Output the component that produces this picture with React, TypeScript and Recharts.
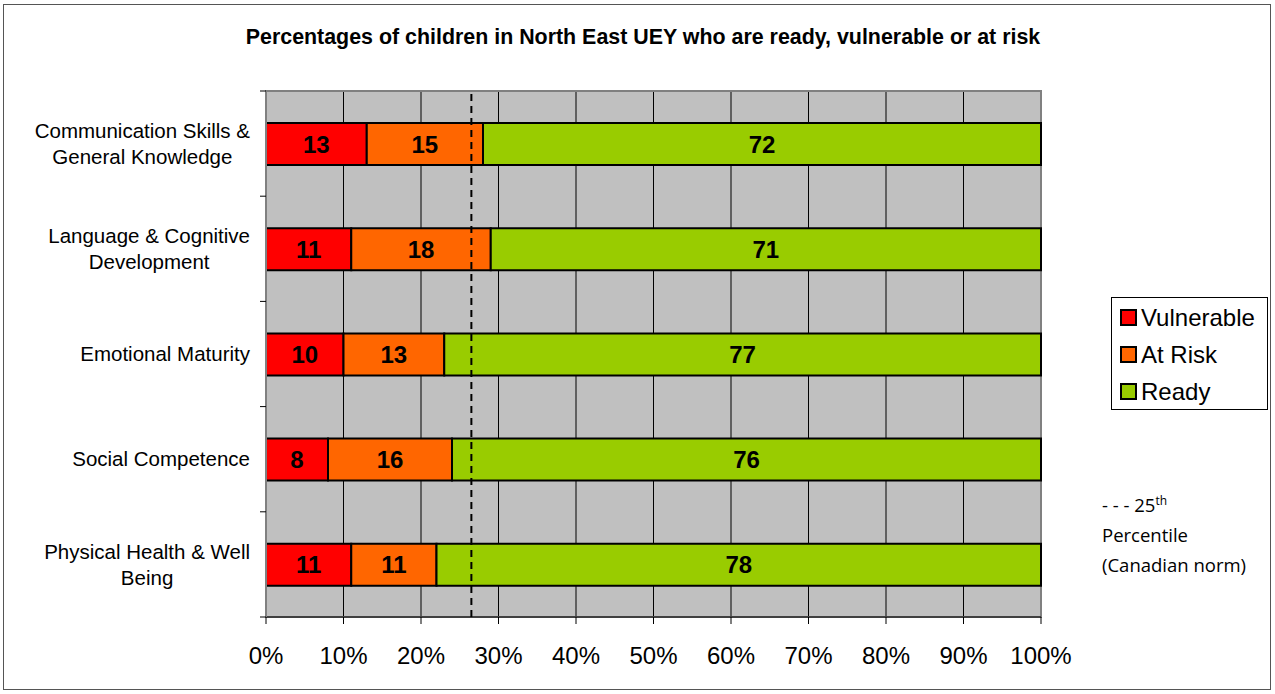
import {
  BarChart,
  Bar,
  XAxis,
  YAxis,
  CartesianGrid,
  Legend,
  LabelList,
  ReferenceLine,
  ReferenceArea,
} from 'recharts'

const categories = [
  'Communication Skills & General Knowledge',
  'Language & Cognitive Development',
  'Emotional Maturity',
  'Social Competence',
  'Physical Health & Well Being',
]
const categoryLines = [
  ['Communication Skills &', 'General Knowledge'],
  ['Language & Cognitive', 'Development'],
  ['Emotional Maturity'],
  ['Social Competence'],
  ['Physical Health & Well', 'Being'],
]
const vulnerable = [13, 11, 10, 8, 11]
const atRisk = [15, 18, 13, 16, 11]
const ready = [72, 71, 77, 76, 78]
const xTicks = [0, 10, 20, 30, 40, 50, 60, 70, 80, 90, 100]
const canadianNorm = 26.5

const series = [
  { key: 'vulnerable', name: 'Vulnerable', color: '#FF0000' },
  { key: 'atRisk', name: 'At Risk', color: '#FF6600' },
  { key: 'ready', name: 'Ready', color: '#99CC00' },
]

const data = categories.map((name, i) => ({
  name,
  vulnerable: vulnerable[i],
  atRisk: atRisk[i],
  ready: ready[i],
}))

const FONT = 'Arial, "Liberation Sans", sans-serif'
const W = 1275
const H = 694
const TOP = 91
const BOTTOM = 77
const BAND = (H - TOP - BOTTOM) / categories.length

let canvas: HTMLCanvasElement | null = null
function textWidth(s: string, font: string) {
  if (!canvas) canvas = document.createElement('canvas')
  const ctx = canvas.getContext('2d')
  if (!ctx) return s.length * 10
  ctx.font = font
  return ctx.measureText(s).width
}

// category label centred on its widest line, right edge 16px left of the axis,
// with Excel-style tick marks between categories
function CategoryTick(props: any) {
  const { x, y, payload } = props
  const idx = categories.indexOf(payload.value)
  const lines = categoryLines[idx] || [payload.value]
  const right = x - 16
  const maxW = Math.max(...lines.map((l) => textWidth(l, `20.5px ${FONT}`)))
  const cx = right - maxW / 2
  const lh = 26
  const startY = y - ((lines.length - 1) * lh) / 2
  return (
    <g>
      <line x1={x - 6} x2={x} y1={y - BAND / 2} y2={y - BAND / 2} stroke="#000" />
      {idx === categories.length - 1 && (
        <line x1={x - 6} x2={x} y1={y + BAND / 2} y2={y + BAND / 2} stroke="#000" />
      )}
      {lines.map((l, i) => (
        <text
          key={i}
          x={cx}
          y={startY + i * lh}
          dy="0.35em"
          textAnchor="middle"
          fontSize={20.5}
          fontFamily={FONT}
          fill="#000"
        >
          {l}
        </text>
      ))}
    </g>
  )
}

function LegendBox() {
  return (
    <div
      style={{
        border: '1px solid #000',
        background: '#fff',
        padding: '1px 0 3px 8px',
        fontFamily: FONT,
        fontSize: 24,
        color: '#000',
        width: 157,
        height: 113,
        boxSizing: 'border-box',
      }}
    >
      {series.map((s) => (
        <div key={s.key} style={{ display: 'flex', alignItems: 'center', height: 37 }}>
          <span
            style={{
              display: 'inline-block',
              width: 13,
              height: 13,
              background: s.color,
              border: '2px solid #000',
              marginRight: 4,
            }}
          />
          {s.name}
        </div>
      ))}
    </div>
  )
}

export default function App() {
  return (
    <div
      style={{
        position: 'absolute',
        left: 0,
        top: 0,
        width: W,
        height: H,
        background: '#fff',
        fontFamily: FONT,
      }}
    >
      <div
        style={{
          position: 'absolute',
          left: 3,
          top: 4,
          width: W - 7,
          height: H - 8,
          border: '1px solid #555',
          boxSizing: 'border-box',
        }}
      />
      <div
        style={{
          position: 'absolute',
          left: 0,
          width: 1286,
          top: 25,
          textAlign: 'center',
          fontWeight: 'bold',
          fontSize: 21.4,
          whiteSpace: 'nowrap',
        }}
      >
        Percentages of children in North East UEY who are ready, vulnerable or at risk
      </div>
      <div
        style={{
          position: 'absolute',
          left: 1102,
          top: 490,
          fontFamily: '"Open Sans", "Noto Sans", sans-serif',
          fontSize: 18.5,
          lineHeight: '30px',
          color: '#000',
          whiteSpace: 'nowrap',
        }}
      >
        - - - 25<sup style={{ fontSize: 12, lineHeight: 0 }}>th</sup>
        <br />
        Percentile
        <br />
        (Canadian norm)
      </div>
      <BarChart
        width={W}
        height={H}
        data={data}
        layout="vertical"
        margin={{ top: TOP, right: W - 1041, bottom: BOTTOM - 55, left: 16 }}
        barSize={42}
        style={{ position: 'absolute', left: 0, top: 0 }}
      >
        <CartesianGrid horizontal={false} stroke="#000" fill="#C0C0C0" fillOpacity={1} />
        <ReferenceArea x1={0} x2={100} stroke="#808080" strokeWidth={2} fill="none" />
        <XAxis
          type="number"
          domain={[0, 100]}
          ticks={xTicks}
          tickFormatter={(v) => `${v}%`}
          height={55}
          tick={{ fontSize: 24, fill: '#000', fontFamily: FONT }}
          tickSize={7}
          tickMargin={23}
          axisLine={{ stroke: '#000' }}
          tickLine={{ stroke: '#000' }}
          interval={0}
        />
        <YAxis
          type="category"
          dataKey="name"
          width={250}
          tick={<CategoryTick />}
          tickLine={false}
          tickSize={0}
          tickMargin={0}
          axisLine={{ stroke: '#808080', strokeWidth: 2 }}
          interval={0}
        />
        {series.map((s) => (
          <Bar
            key={s.key}
            dataKey={s.key}
            name={s.name}
            stackId="a"
            fill={s.color}
            stroke="#000"
            strokeWidth={2}
            isAnimationActive={false}
          >
            <LabelList
              dataKey={s.key}
              position="center"
              fill="#000"
              fontSize={24}
              fontWeight="bold"
              fontFamily={FONT}
            />
          </Bar>
        ))}
        <ReferenceLine x={canadianNorm} stroke="#000" strokeWidth={2} strokeDasharray="7 5" />
        <Legend
          layout="vertical"
          align="center"
          verticalAlign="middle"
          wrapperStyle={{ left: 1111, top: 297, width: 157 }}
          content={() => <LegendBox />}
        />
      </BarChart>
    </div>
  )
}
